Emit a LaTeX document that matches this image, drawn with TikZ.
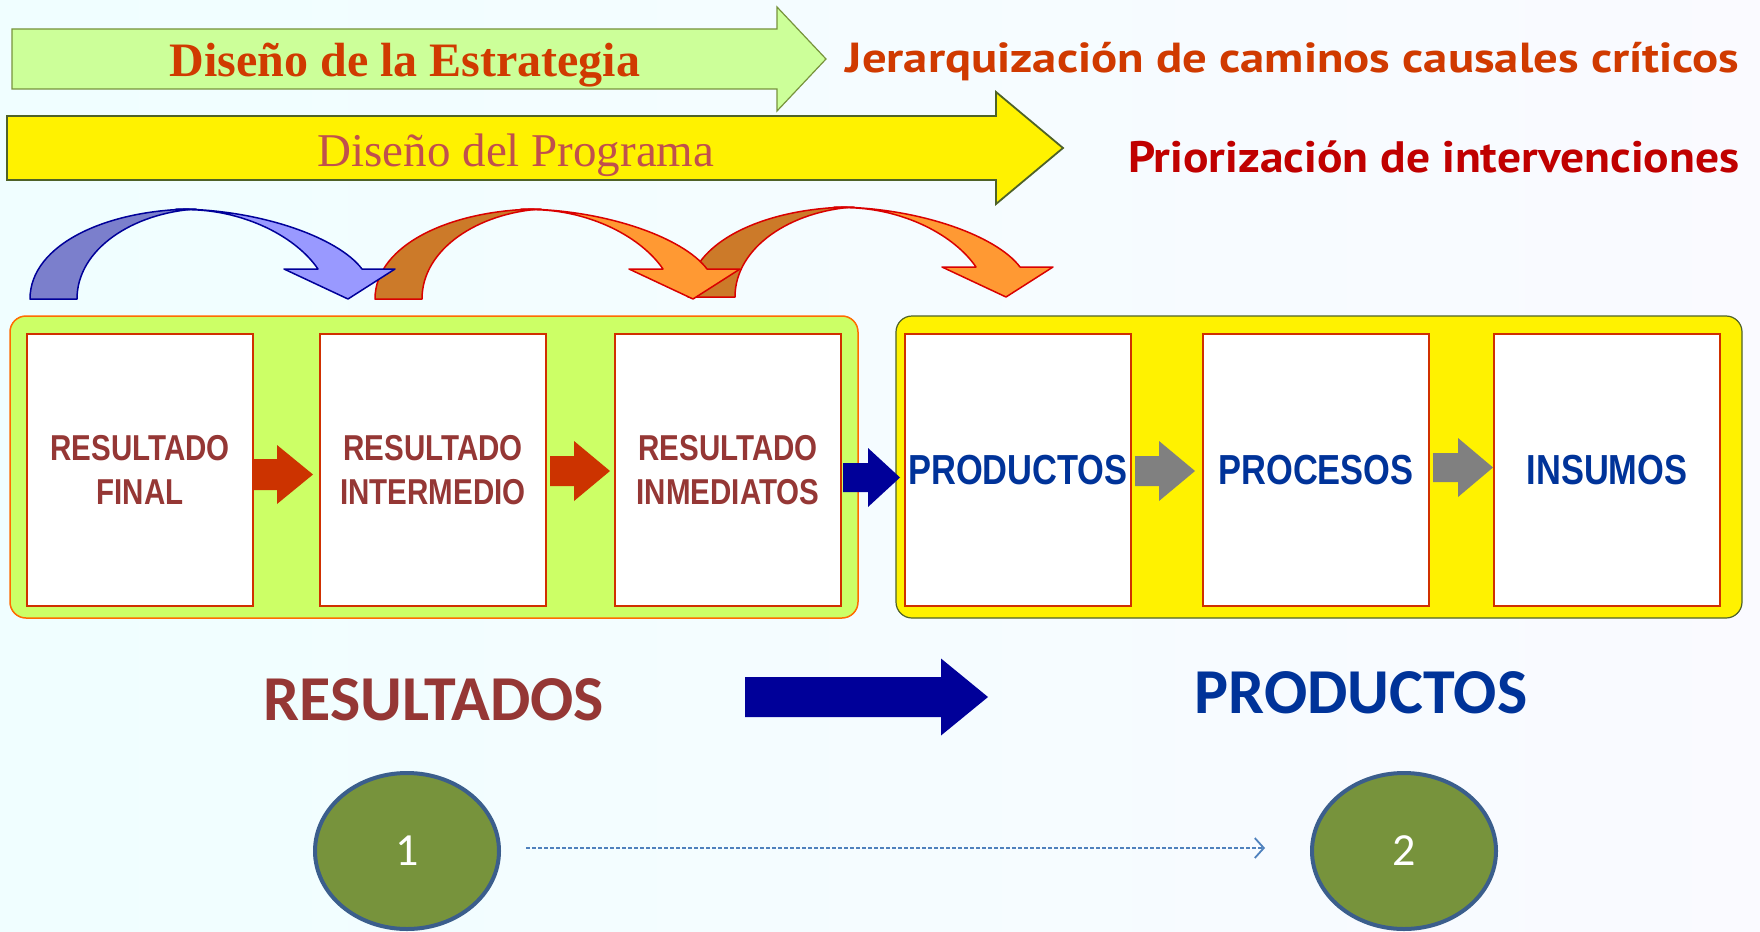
\documentclass[tikz,border=0pt]{standalone}
\usepackage{fontspec}
\setmainfont{Liberation Serif}
\newfontfamily\narrowsans[FakeStretch=0.82]{Liberation Sans}
\newfontfamily\carlito{Carlito}
\newfontfamily\handfont[FakeStretch=1.16]{PT Sans}
\newfontfamily\handfontb[FakeStretch=1.08]{PT Sans}
\usepackage{tikz}
\usetikzlibrary{shapes.geometric, arrows.meta, positioning}

\definecolor{estrat}{HTML}{D03A00}
\definecolor{progtxt}{HTML}{C0504D}
\definecolor{prioriz}{HTML}{C00000}
\definecolor{resred}{HTML}{953735}
\definecolor{prodblue}{HTML}{003399}
\definecolor{navy}{HTML}{000099}
\definecolor{lime}{HTML}{CCFF66}
\definecolor{palegreen}{HTML}{CCFF99}
\definecolor{olive}{HTML}{4F6228}
\definecolor{boxred}{HTML}{D03000}
\definecolor{arrowred}{HTML}{CC3300}
\definecolor{leaf}{HTML}{77933C}
\definecolor{steel}{HTML}{3B5E8C}
\definecolor{dotblue}{HTML}{4F81BD}
\definecolor{bluedark}{HTML}{7B7FCC}
\definecolor{bluelight}{HTML}{9999FF}
\definecolor{orangedark}{HTML}{CC7A29}
\definecolor{orangelight}{HTML}{FF9933}

% block arrow: style, x0, yc, body length, head length, body half, head half
\newcommand{\blockarrow}[7]{%
  \path[#1] (#2,{#3-#6}) -- ++(#4,0) -- ++(0,{#6-#7}) -- ++(#5,#7)
    -- ++(-#5,#7) -- ++(0,{#6-#7}) -- ++(-#4,0) -- cycle;}

% curved jump arrow: tip x, tip y, back fill, front fill, outline
\newcommand{\jumparrow}[5]{%
  \begin{scope}[shift={(#1,#2)}, line width=1.5pt, line join=round]
    \filldraw[fill=#3, draw=#5] (-318,0) .. controls (-318,-55) and (-240,-90) .. (-152,-90)
      .. controls (-215,-86) and (-271,-50) .. (-271,0) -- cycle;
    \filldraw[fill=#4, draw=#5] (-172,-90) .. controls (-90,-90) and (-10,-62) .. (14,-30)
      -- (47,-30) -- (0,0) -- (-64,-30) -- (-30,-30)
      .. controls (-52,-62) and (-100,-86) .. (-150,-89) -- cycle;
  \end{scope}}

\begin{document}
\begin{tikzpicture}[x=1pt, y=-1pt,
    stage/.style={draw=boxred, line width=2pt, fill=white, minimum width=226pt, minimum height=272pt, align=center, inner sep=0pt},
    restxt/.style={stage, text=resred, font=\narrowsans\bfseries\fontsize{36}{44}\selectfont},
    prodtxt/.style={stage, text=prodblue, font=\narrowsans\bfseries\fontsize{42}{50}\selectfont},
    panel/.style={rounded corners=16pt, minimum width=#1, minimum height=302pt, inner sep=0pt},
    bubble/.style={ellipse, draw=steel, line width=4pt, fill=leaf, minimum width=184pt, minimum height=156pt, text=white, font=\carlito\fontsize{46}{46}\selectfont}]

    % background
    \shade[left color=blue!4!cyan!6, right color=blue!2!white] (0,0) rectangle (1760,931);
    \useasboundingbox (0,0) rectangle (1760,931);

    % banners
    \blockarrow{fill=palegreen, draw=leaf, line width=1.2pt}{12}{59}{765}{49}{30}{52}
    \blockarrow{fill=yellow, draw=olive, line width=1.8pt}{7}{148}{989}{67}{32}{56}
    \node[anchor=base, text=estrat, font=\bfseries\fontsize{48}{48}\selectfont] (estrategia) at (405,77) {Diseño de la Estrategia};
    \node[anchor=base, text=progtxt, font=\fontsize{47}{47}\selectfont] (programa) at (516,166) {Diseño del Programa};
    \node[anchor=base east, text=estrat, font=\handfont\bfseries\fontsize{42}{42}\selectfont] (jerarq) at (1743,73) {Jerarquización de caminos causales críticos};
    \node[anchor=base east, text=prioriz, font=\handfontb\bfseries\fontsize{44}{44}\selectfont] (prior) at (1743,172) {Priorización de intervenciones};

    % jump arrows
    \jumparrow{1006}{297}{orangedark}{orangelight}{red!85!black}
    \jumparrow{693}{299}{orangedark}{orangelight}{red!85!black}
    \jumparrow{348}{299}{bluedark}{bluelight}{navy}

    % panels
    \node[panel=848pt, fill=lime, draw=orange!85!red, line width=1.5pt] (respanel) at (434,467) {};
    \node[panel=846pt, fill=yellow, draw=olive, line width=1.2pt] (prodpanel) at (1319,467) {};

    % stages
    \node[restxt] (final) at (140,470) {RESULTADO\\FINAL};
    \node[restxt] (interm) at (433,470) {RESULTADO\\INTERMEDIO};
    \node[restxt] (inmed) at (728,470) {RESULTADO\\INMEDIATOS};
    \node[prodtxt] (productos) at (1018,470) {PRODUCTOS};
    \node[prodtxt] (procesos) at (1316,470) {PROCESOS};
    \node[prodtxt] (insumos) at (1607,470) {INSUMOS};

    % arrows between stages
    \blockarrow{fill=arrowred}{253}{474.5}{24}{36}{15.5}{29.5}
    \blockarrow{fill=arrowred}{550}{471}{24}{36}{15}{30}
    \blockarrow{fill=navy}{843}{477.5}{25}{32}{14.5}{29.5}
    \blockarrow{fill=gray}{1135}{471}{24}{36}{15}{30}
    \blockarrow{fill=gray}{1433}{467.5}{25}{35}{14.5}{29.5}

    % bottom row
    \node[anchor=base, text=resred, font=\carlito\bfseries\fontsize{64}{64}\selectfont] (resultados) at (434,720) {RESULTADOS};
    \node[anchor=base, text=prodblue, font=\carlito\bfseries\fontsize{64}{64}\selectfont] (productosb) at (1361,713) {PRODUCTOS};
    \blockarrow{fill=navy}{745}{697}{196}{47}{20}{38.5}

    \node[bubble] (one) at (407,851) {1};
    \node[bubble] (two) at (1404,851) {2};
    \draw[dotblue, line width=2.6pt, dash pattern=on 4pt off 2pt, shorten <=25pt, shorten >=45pt,
        -{Straight Barb[length=9pt, width=20pt, line width=1.8pt]}] ([yshift=3pt]one.east) -- ([yshift=3pt]two.west);

\end{tikzpicture}
\end{document}
